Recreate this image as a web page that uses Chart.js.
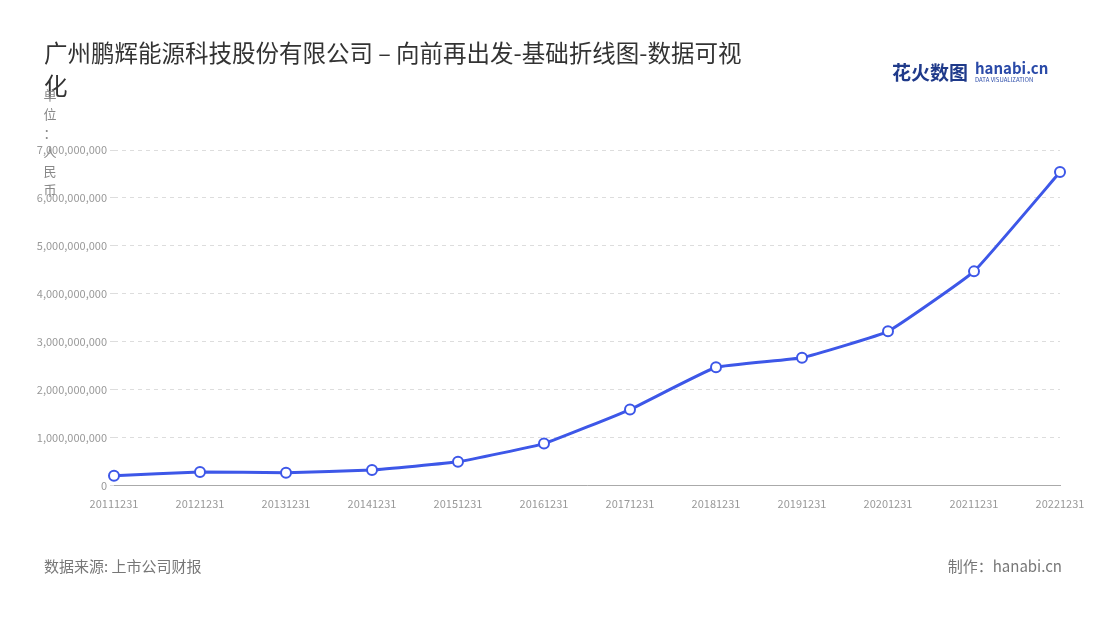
<!DOCTYPE html>
<html>
<head>
<meta charset="utf-8">
<script src="https://cdn.jsdelivr.net/npm/chart.js@4"></script>
<style>
  body { margin: 0; background: #fff; }
  #wrap { position: relative; width: 1100px; height: 620px; }
</style>
</head>
<body>
<div id="wrap"><canvas id="lineChart" width="1100" height="620"></canvas></div>
<script>
const years = ['20111231', '20121231', '20131231', '20141231', '20151231', '20161231',
    '20171231', '20181231', '20191231', '20201231', '20211231', '20221231'];
const revenue = [0.21e9, 0.29e9, 0.27e9, 0.33e9, 0.50e9, 0.88e9,
    1.59e9, 2.47e9, 2.67e9, 3.22e9, 4.47e9, 6.54e9];
const titleText = '广州鹏辉能源科技股份有限公司 – 向前再出发-基础折线图-数据可视';
const titleWrap = '化';
const unitChars = ['单', '位', '：', '人', '民', '币'];
const sourceText = '数据来源: 上市公司财报';
const makerText = '制作：hanabi.cn';

const font = '"Noto Sans CJK SC", "Noto Sans", sans-serif';

// title, unit label, footer, logo drawn straight on the canvas
const decor = {
    id: 'decor',
    afterDraw(chart) {
        const c = chart.ctx;
        c.save();
        c.fillStyle = '#333';
        c.font = '23.5px ' + font;
        c.textBaseline = 'alphabetic';
        c.fillText(titleText, 44, 62);
        c.fillText(titleWrap, 44, 95);

        c.fillStyle = '#888';
        c.font = '13px ' + font;
        c.textAlign = 'center';
        unitChars.forEach((ch, i) => c.fillText(ch, 50, 100 + i * 19));

        c.textAlign = 'left';
        c.font = '15px ' + font;
        c.fillStyle = '#777';
        c.fillText(sourceText, 44, 572);
        c.textAlign = 'right';
        c.fillText(makerText, 1062, 572);

        c.textAlign = 'left';
        c.font = 'bold 19px ' + font;
        c.fillStyle = '#1f3a8a';
        c.fillText('花火数图', 892, 80);
        c.font = 'bold 15px ' + font;
        c.fillStyle = '#2a4aa8';
        c.fillText('hanabi.cn', 975, 74);
        c.font = '6px ' + font;
        c.fillText('DATA VISUALIZATION', 975, 82);
        c.restore();
    }
};

new Chart(document.getElementById('lineChart').getContext('2d'), {
    type: 'line',
    data: {
        labels: years,
        datasets: [{
            data: revenue,
            borderColor: '#3d57e8',
            borderWidth: 3,
            backgroundColor: '#fff',
            pointBorderColor: '#3d57e8',
            pointBorderWidth: 2,
            pointRadius: 5,
            tension: 0.1
        }]
    },
    options: {
        responsive: false,
        animation: false,
        layout: { padding: { top: 150, right: 40, bottom: 107, left: 0 } },
        plugins: { legend: { display: false }, tooltip: { enabled: false } },
        scales: {
            x: {
                offset: false,
                grid: { display: false },
                border: { color: '#aaa' },
                ticks: { color: '#999', font: { size: 11, family: font }, maxRotation: 0, autoSkip: false }
            },
            y: {
                min: 0, max: 7e9,
                afterFit(s) { s.width = 114; },
                grid: { color: '#ddd', drawTicks: true, tickLength: 4 },
                border: { display: false, dash: [4, 4] },
                ticks: {
                    stepSize: 1e9,
                    color: '#999',
                    font: { size: 11, family: font },
                    callback: v => v.toLocaleString('en-US')
                }
            }
        }
    },
    plugins: [decor]
});
</script>
</body>
</html>
